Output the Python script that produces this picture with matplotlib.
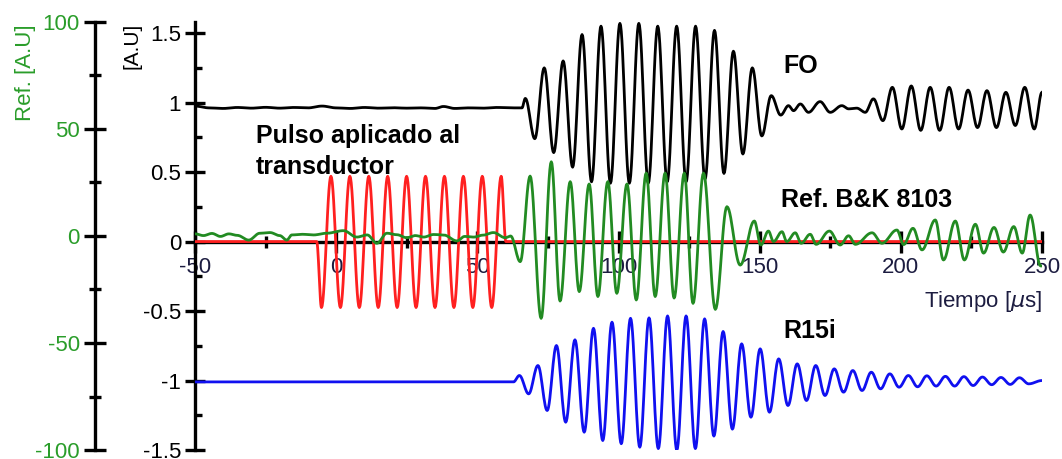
import numpy as np
import matplotlib.pyplot as plt

plt.rcParams['font.family'] = ['Liberation Sans', 'DejaVu Sans']
plt.rcParams['axes.unicode_minus'] = False

# ---- values (time in us) ----
# FO (black axis): quiet baseline, main burst, small ringing, second burst
fo_base_t = [-50, -45, -40, -35, -30, -25, -20, -15, -10, -5, 0, 5, 10, 15,
             20, 25, 30, 35, 38, 42, 47, 52, 57, 62, 65.8]
fo_base_v = [0.975, 0.962, 0.958, 0.965, 0.96, 0.966, 0.96, 0.965, 0.962,
             0.975, 0.962, 0.958, 0.965, 0.96, 0.963, 0.96, 0.962, 0.958,
             0.972, 0.958, 0.962, 0.96, 0.965, 0.962, 0.962]
fo_burst1_start, fo_half_period = 67.0, 3.35
fo_burst1_v = [1.03, 0.74, 1.25, 0.64, 1.30, 0.535, 1.49, 0.43, 1.55, 0.42,
               1.57, 0.42, 1.57, 0.42, 1.55, 0.43, 1.55, 0.43, 1.55, 0.45,
               1.52, 0.49, 1.37, 0.63, 1.25, 0.76, 1.05, 0.91]
fo_ring_t = [160.2, 162.0, 164.4, 167.3, 171.4, 175.0, 179.1, 181.5, 184.4, 187.4]
fo_ring_v = [0.978, 0.942, 0.99, 0.93, 1.007, 0.93, 0.978, 0.955, 0.96, 0.93]
fo_burst2_start = 190.3
fo_burst2_v = [1.027, 0.87, 1.11, 0.81, 1.12, 0.80, 1.11, 0.80, 1.11, 0.81,
               1.09, 0.82, 1.086, 0.82, 1.074, 0.835, 1.11, 0.81]
fo_end = (250.0, 1.074)

# applied pulse (black axis): 10 cycles
pulse_start, pulse_first, pulse_half_period, pulse_end = -6.9, -5.2, 3.35, 60.1
pulse_v = [-0.475, 0.47] * 10

# Ref. B&K 8103 (green axis)
ref_base_t = [-50, -47, -44, -41, -38, -35, -31, -27, -23.4, -20, -17.5,
              -15.7, -12, -8, -3.3, 2.6, 7.3, 11, 14.4, 18, 21.5, 25, 28, 31,
              34.5, 38, 42.8, 45.5, 48.7, 52, 55.7, 59.9, 61.8]
ref_base_v = [1.0, 0.2, 1.2, -0.2, 1.0, 0.3, -1.9, 1.3, 1.6, 0.2, -1.9, 0.5,
              0.8, 0.5, 1.3, 2.5, -0.5, 0.5, -3.4, 1.3, 0.6, -0.8, 0.2, -0.5,
              0.7, 0.5, -2.3, -0.2, -0.5, 0.4, 1.6, -0.8, 0.0]
ref_t = [65.2, 68.7, 72.6, 76.2, 79.3, 82.9, 86.1, 89.6, 92.7, 96.2, 99.4,
         103.0, 106.3, 109.8, 113.0, 116.5, 119.7, 123.3, 126.4, 130.1, 134.3,
         138.4, 143.1, 148.1, 150.4, 153.1, 154.9, 157.9, 159.6, 162.6, 164.7,
         167.9, 170.0, 174.7, 178.5, 181.5, 183.9, 189.8, 193.3, 198.6, 201.0,
         204.3, 207.5, 212.2, 215.1, 219.3, 222.5, 226.4, 229.3, 233.0, 236.3,
         240.0, 243.0, 245.8, 249.5, 250.0]
ref_v = [-12, 28, -38.5, 34.7, -30.4, 25.4, -26, 24.3, -28.3, 25.4, -26.8,
         24.3, -29.9, 29.4, -28.3, 29.4, -29, 29.4, -31.5, 29.4, -34.3,
         13.7, -13.6, 7, -4.2, 2.3, -2.6, 2, -2.6, 1.5, -3.4,
         0.8, -3.9, 2.3, -4.2, 0.1, -3.9, 1.5, -3.4, 2.8, -4,
         3.6, -6.5, 7.5, -11.2, 7, -11.2, 5.5, -8, 4, -7.5,
         4.4, -8, 9.8, -14, -14]

# R15i (black axis)
r15_base = -1.01
r15_onset = 62.8
r15_first, r15_half_period = 64.9, 3.28
r15_v = [-0.964, -1.096, -0.892, -1.216, -0.748, -1.30, -0.707, -1.372,
         -0.624, -1.432, -0.58, -1.455, -0.552, -1.48, -0.549, -1.49,
         -0.535, -1.50, -0.535, -1.49, -0.556, -1.40, -0.647, -1.35,
         -0.736, -1.264, -0.772, -1.228, -0.844, -1.18, -0.88, -1.144,
         -0.892, -1.108, -0.916, -1.084, -0.928, -1.072, -0.94, -1.06,
         -0.952, -1.048, -0.964, -1.045, -0.966, -1.04, -0.97, -1.04,
         -0.972, -1.036, -0.975, -1.03, -0.978, -1.028, -0.98, -1.024]
r15_end = -1.0

x_ticks = [-50, 0, 50, 100, 150, 200, 250]


def through_extrema(times, values, n=14):
    # smooth half-cosine segments between successive extrema
    ts, vs = [], []
    for i in range(len(times) - 1):
        s = np.linspace(0, 1, n, endpoint=False)
        w = (1 - np.cos(np.pi * s)) / 2
        ts.append(times[i] + (times[i + 1] - times[i]) * s)
        vs.append(values[i] + (values[i + 1] - values[i]) * w)
    ts.append([times[-1]])
    vs.append([values[-1]])
    return np.concatenate(ts), np.concatenate(vs)


def grid(start, step, values):
    return list(start + step * np.arange(len(values)))


def main():
    green = '#228b22'
    green_txt = '#2a9d2a'
    lw = 2.0

    fig = plt.figure(figsize=(10.62, 4.59), dpi=100)
    ax = fig.add_axes([195 / 1062, 9 / 459, 847 / 1062, 428 / 459])
    ax.set_xlim(-50, 250)
    ax.set_ylim(-1.5, 1.58)

    # FO
    t = (fo_base_t + grid(fo_burst1_start, fo_half_period, fo_burst1_v)
         + fo_ring_t + grid(fo_burst2_start, fo_half_period, fo_burst2_v)
         + [fo_end[0]])
    v = fo_base_v + fo_burst1_v + fo_ring_v + fo_burst2_v + [fo_end[1]]
    ax.plot(*through_extrema(t, v), color='black', lw=lw, zorder=3)

    # pulse
    t = [-50, pulse_start] + grid(pulse_first, pulse_half_period, pulse_v) + [pulse_end, 250]
    v = [0, 0] + pulse_v + [0, 0]
    ax.plot(*through_extrema(t, v), color='#ff2020', lw=lw, zorder=3)

    # R15i
    t = [-50, r15_onset] + grid(r15_first, r15_half_period, r15_v) + [250]
    v = [r15_base, r15_base] + r15_v + [r15_end]
    ax.plot(*through_extrema(t, v), color='#1010f0', lw=lw, zorder=3)

    # axes styling (black)
    for side in ['top', 'right']:
        ax.spines[side].set_visible(False)
    ax.spines['bottom'].set_position(('data', 0))
    ax.spines['bottom'].set_linewidth(2.4)
    ax.spines['left'].set_linewidth(2.4)
    ax.set_xticks(x_ticks)
    ax.set_xticks(np.arange(-25, 250, 50), minor=True)
    ax.set_yticks([-1.5, -1, -0.5, 0, 0.5, 1, 1.5])
    ax.set_yticklabels(['-1.5', '-1', '-0.5', '0', '0.5', '1', '1.5'])
    ax.set_yticks(np.arange(-1.25, 1.5, 0.5), minor=True)
    ax.tick_params(axis='x', which='major', direction='inout', length=16,
                   width=2.4, labelsize=16, pad=3, labelcolor='#1c1c40')
    ax.tick_params(axis='x', which='minor', direction='inout', length=8.5, width=2.4)
    ax.tick_params(axis='y', which='major', direction='inout', length=14,
                   width=2.4, labelsize=16, pad=3)
    ax.tick_params(axis='y', which='minor', direction='in', length=5, width=2.4)

    # green axis
    ax2 = ax.twinx()
    ax2.set_ylim(-100, 100)
    t = ref_base_t + ref_t
    v = ref_base_v + ref_v
    ax2.plot(*through_extrema(t, v), color=green, lw=lw, zorder=3)
    for side in ['top', 'right', 'bottom']:
        ax2.spines[side].set_visible(False)
    ax2.spines['left'].set_visible(True)
    ax2.spines['left'].set_position(('axes', -0.1186))
    ax2.spines['left'].set_linewidth(2.4)
    ax2.yaxis.set_ticks_position('left')
    ax2.set_yticks([-100, -50, 0, 50, 100])
    ax2.set_yticks([-75, -25, 25, 75], minor=True)
    ax2.tick_params(axis='y', which='major', direction='inout', length=16,
                    width=2.4, labelsize=16, pad=2.5, labelcolor=green_txt)
    ax2.tick_params(axis='y', which='minor', direction='inout', length=8.5, width=2.4)

    # labels
    fig.text(25 / 1062, 1 - 73 / 459, 'Ref. [A.U]', rotation=90, color=green_txt,
             fontsize=16, ha='center', va='center')
    fig.text(132 / 1062, 1 - 46 / 459, '[A.U]', rotation=90, color='black',
             fontsize=15, ha='center', va='center')
    ax.text(250, -0.43, 'Tiempo [$\\mu$s]', fontsize=16, ha='right', va='center',
            color='#1c1c40')

    # annotations
    def note(x, y, s):
        fig.text(x / 1062, 1 - y / 459, s, fontsize=18, fontweight='bold',
                 ha='left', va='baseline', linespacing=1.2)

    note(783, 73, 'FO')
    note(256, 143, 'Pulso aplicado al')
    note(256, 174, 'transductor')
    note(781, 207, 'Ref. B&K 8103')
    note(783, 338, 'R15i')

    fig.savefig('out.png', dpi=100)


if __name__ == "__main__":
    main()
